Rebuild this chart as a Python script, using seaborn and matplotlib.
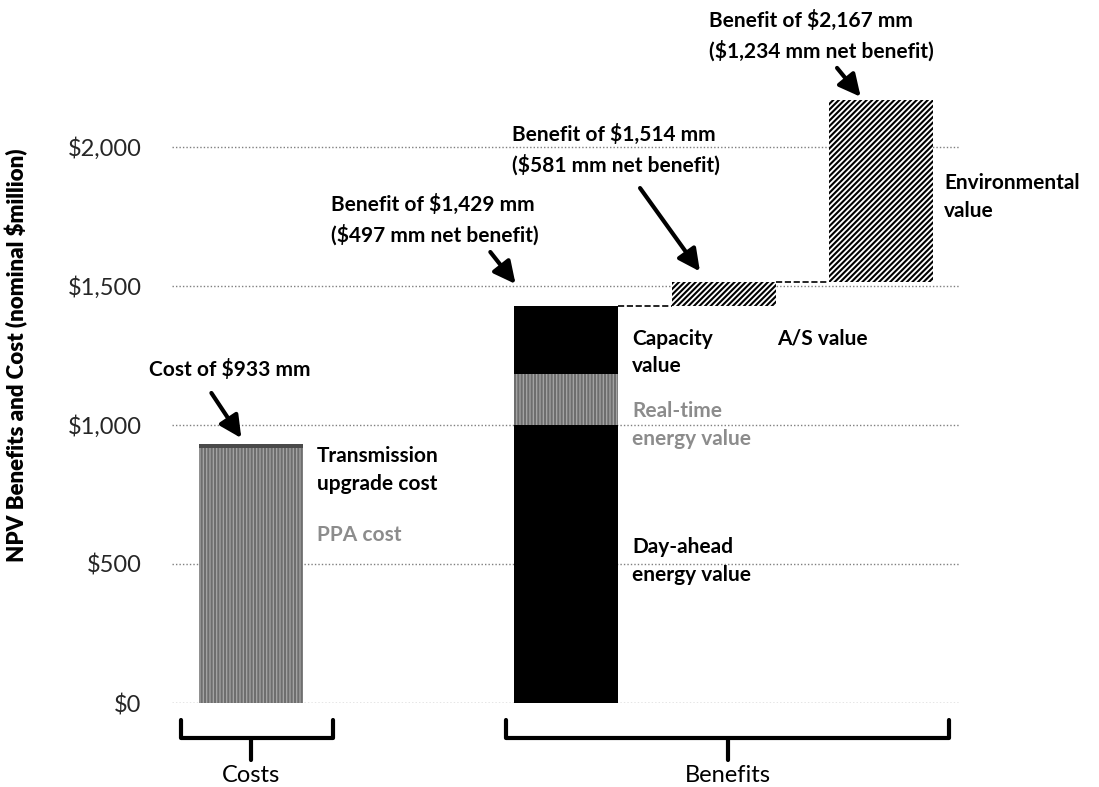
#!/usr/bin/env python3
"""NPV benefits vs. cost waterfall (costs bar + stacked/floating benefit bars)."""
import pandas as pd
import matplotlib
matplotlib.use("Agg")
import matplotlib.pyplot as plt
import seaborn as sns

# --- data ($ million, nominal NPV) ---
segments = ["PPA cost", "Transmission upgrade cost", "Day-ahead energy value",
            "Real-time energy value", "Capacity value", "A/S value", "Environmental value"]
groups = ["Costs", "Costs", "Benefits", "Benefits", "Benefits", "Benefits", "Benefits"]
bar_id = [0, 0, 1, 1, 1, 2, 3]          # which column each segment sits in
values = [917.6, 15.0, 1000.0, 183.0, 246.3, 84.5, 653.1]
tick_values = [0, 500, 1000, 1500, 2000]
tick_labels = ["$0", "$500", "$1,000", "$1,500", "$2,000"]

df = pd.DataFrame({"segment": segments, "group": groups, "bar": bar_id, "value": values})
# costs stack from zero; benefits are a running waterfall
df["bottom"] = 0.0
cst = df.group == "Costs"
df.loc[cst, "bottom"] = df[cst]["value"].cumsum().shift(fill_value=0)
ben = df.group == "Benefits"
df.loc[ben, "bottom"] = df[ben]["value"].cumsum().shift(fill_value=0)
df["top"] = df["bottom"] + df["value"]
df["pos"] = df["bar"].map({0: 0, 1: 2, 2: 3, 3: 4})

cost_total = df[cst]["value"].sum()
bar_tops = df.groupby("bar")["top"].max()

styles = {
    "PPA cost": dict(color="#a6a6a6", edgecolor="#6e6e6e", hatch="|||||"),
    "Transmission upgrade cost": dict(color="#4a4a4a", edgecolor="#4a4a4a", hatch=None),
    "Day-ahead energy value": dict(color="black", edgecolor="black", hatch=None),
    "Real-time energy value": dict(color="#a6a6a6", edgecolor="#6e6e6e", hatch="|||||"),
    "Capacity value": dict(color="black", edgecolor="black", hatch=None),
    "A/S value": dict(color="white", edgecolor="black", hatch="//////"),
    "Environmental value": dict(color="white", edgecolor="black", hatch="//////"),
}

sns.set_theme(style="white")
plt.rcParams["font.family"] = ["Lato", "DejaVu Sans"]
plt.rcParams["hatch.linewidth"] = 1.5

fig = plt.figure(figsize=(10.99, 7.87), dpi=100)
ax = fig.add_axes([0.1565, 0.1067, 0.717, 0.8833])

for _, row in df.iterrows():
    st = styles[row.segment]
    sns.barplot(data=pd.DataFrame({"pos": [row.pos], "value": [row.value]}),
                x="pos", y="value", native_scale=True, width=0.66,
                bottom=row.bottom, color=st["color"], saturation=1,
                edgecolor=st["edgecolor"], hatch=st["hatch"], linewidth=0,
                errorbar=None, ax=ax, zorder=3)

# dashed connectors between the floating benefit bars
for b in [1, 2]:
    x0 = df[df.bar == b]["pos"].iloc[0] + 0.33
    x1 = df[df.bar == b + 1]["pos"].iloc[0] - 0.33
    ax.plot([x0, x1], [bar_tops[b], bar_tops[b]], ls="--", color="black", lw=1.2, zorder=4)

ax.set_xlim(-0.5, 4.5)
ax.set_ylim(0, 2500)
ax.set_yticks(tick_values)
ax.set_yticklabels(tick_labels, fontsize=17)
ax.tick_params(axis="y", length=0, pad=22)
ax.set_xticks([])
ax.set_xlabel("")
ax.set_ylabel("")
ax.text(-0.197, 0.5, "NPV Benefits and Cost (nominal $million)", transform=ax.transAxes,
        rotation=90, ha="center", va="center", fontsize=16, fontweight="heavy", color="black")
for v in tick_values:
    ax.axhline(v, color="#7f7f7f", ls=(0, (1, 1.5)), lw=1, zorder=1)
sns.despine(ax=ax, left=True, bottom=True)

bold = dict(fontsize=15, fontweight="bold", va="center", ha="left")
gray = "#8c8c8c"

# segment labels
ax.text(0.42, 838, "Transmission\nupgrade cost", color="black", linespacing=1.5, **bold)
ax.text(0.42, 604, "PPA cost", color=gray, **bold)
ax.text(2.42, 1262, "Capacity\nvalue", color="black", linespacing=1.45, **bold)
ax.text(2.42, 1000, "Real-time\nenergy value", color=gray, linespacing=1.45, **bold)
ax.text(2.42, 511, "Day-ahead\nenergy value", color="black", linespacing=1.5, **bold)
ax.text(3.34, 1312, "A/S value", color="black", **bold)
ax.text(4.40, 1820, "Environmental\nvalue", color="black", linespacing=1.5, **bold)

# totals with arrows
arrow = dict(arrowstyle="-|>,head_length=1.1,head_width=0.55", color="black", lw=3,
             shrinkA=0, shrinkB=0)
ax.text(-0.646, 1198, f"Cost of ${cost_total:,.0f} mm", color="black", **bold)
ax.annotate("", xy=(-0.06, cost_total + 20), xytext=(-0.25, 1115), arrowprops=arrow)

notes = [
    (1, (0.506, 1737), (1.68, 1507), (1.52, 1622)),
    (2, (1.658, 1989), (2.85, 1552), (2.47, 1852)),
    (3, (2.91, 2399), (3.87, 2180), (3.72, 2284)),
]
for b, txt_xy, head, tail in notes:
    total = bar_tops[b]
    ax.text(*txt_xy, f"Benefit of ${total:,.0f} mm\n(${total - cost_total:,.0f} mm net benefit)",
            color="black", linespacing=1.55, **bold)
    ax.annotate("", xy=head, xytext=tail, arrowprops=arrow)

# group braces under the axis
def brace(x0, x1, xc, label):
    kw = dict(color="black", lw=3, clip_on=False, solid_joinstyle="round",
              solid_capstyle="round", zorder=5)
    ax.plot([x0, x0, x1, x1], [-61, -126, -126, -61], **kw)
    ax.plot([xc, xc], [-126, -205], **kw)
    ax.text(xc, -262, label, ha="center", va="center", fontsize=17, color="black")

brace(-0.44, 0.52, 0.0, "Costs")
brace(1.62, 4.43, 3.03, "Benefits")

fig.savefig("out.png", dpi=100)
